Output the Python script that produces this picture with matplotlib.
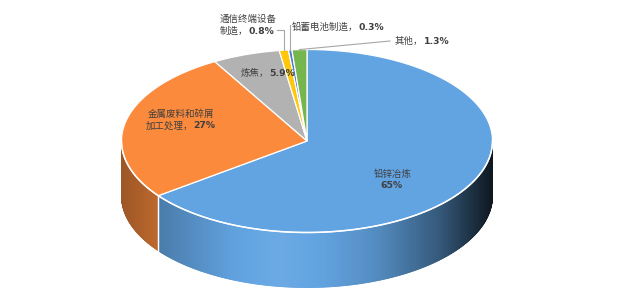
import numpy as np
import matplotlib
matplotlib.use('Agg')
import matplotlib.pyplot as plt
from matplotlib.collections import PolyCollection
from matplotlib.patches import Polygon
from matplotlib.colors import to_rgb

plt.rcParams['font.family'] = ['Noto Sans CJK SC', 'DejaVu Sans']

# ---- data ----
categories = ['铅锌冶炼', '金属废料和碎屑加工处理', '炼焦', '通信终端设备制造', '铅蓄电池制造', '其他']
values = [65, 27, 5.9, 0.8, 0.3, 1.3]
pct_labels = ['65%', '27%', '5.9%', '0.8%', '0.3%', '1.3%']
colors = ['#62A4E2', '#FB8A3C', '#B2B2B2', '#FFC60A', '#4A7DD0', '#77B54E']

# ---- layout ----
W, H = 638, 300
fig = plt.figure(figsize=(6.38, 3.0), dpi=100)
ax = fig.add_axes([0, 0, 1, 1])
ax.set_xlim(0, W)
ax.set_ylim(H, 0)
ax.axis('off')

cx, cy, rx, ry, depth = 307, 141, 185.5, 91.5, 55
text_color = '#3F3F3F'
fs = 6.8


def pt(theta_deg):
    t = np.radians(theta_deg)
    return cx + rx * np.cos(t), cy - ry * np.sin(t)


fracs = np.array(values) / np.sum(values)
ends = 90 - 360 * np.cumsum(fracs)
starts = np.concatenate([[90], ends[:-1]])

# shading profile along the visible side wall (by horizontal position)
U = [-1.0, -0.84, -0.41, -0.15, 0.12, 0.39, 0.72, 0.88, 1.0]
T = [0.42, 0.30, 0.03, -0.06, 0.03, 0.17, 0.51, 0.76, 0.95]


def shade(c, t):
    c = np.array(to_rgb(c))
    if t >= 0:
        dark = c * 0.1
        return tuple(c * (1 - t) + dark * t)
    return tuple(c * (1 + t) - np.ones(3) * t)


# ---- side walls ----
for i in range(len(values)):
    for k in (-360, 0, 360):
        a0 = max(ends[i] + k, -180)
        a1 = min(starts[i] + k, 0)
        if a1 <= a0:
            continue
        n = max(2, int((a1 - a0) * 3))
        angs = np.linspace(a0, a1, n + 1)
        polys, cols = [], []
        for j in range(n):
            x1, y1 = pt(angs[j])
            x2, y2 = pt(angs[j + 1])
            polys.append([(x1, y1), (x2, y2), (x2, y2 + depth), (x1, y1 + depth)])
            u = ((x1 + x2) / 2 - cx) / rx
            cols.append(shade(colors[i], np.interp(u, U, T)))
        pc = PolyCollection(polys, facecolors=cols, edgecolors=cols, linewidths=0.6, zorder=1)
        ax.add_collection(pc)
        for a in (a0, a1):
            if -180 < a < 0:
                x, y = pt(a)
                ax.plot([x, x], [y, y + depth], color='white', lw=0.9, zorder=2)

# ---- top faces ----
for i in range(len(values)):
    n = max(2, int((starts[i] - ends[i]) * 2))
    angs = np.linspace(starts[i], ends[i], n + 1)
    verts = [(cx, cy)] + [pt(a) for a in angs]
    ax.add_patch(Polygon(verts, closed=True, facecolor=colors[i], edgecolor='white',
                         lw=0.9, joinstyle='miter', zorder=3))

rim = np.linspace(-180, 0, 400)
rx_, ry_ = zip(*[pt(a) for a in rim])
ax.plot(rx_, ry_, color='white', lw=1.1, zorder=4)


# ---- labels ----
def label(x, y, parts):
    prev = None
    for txt, bold in parts:
        kw = dict(fontsize=fs, color=text_color, zorder=6)
        if bold:
            kw.update(fontweight='bold', family=['DejaVu Sans'], fontsize=fs * 0.98)
        else:
            kw.update(fontweight='medium')
        if prev is None:
            prev = ax.text(x, y, txt, ha='left', va='center', **kw)
        else:
            prev = ax.annotate(txt, xy=(1, 0.5), xycoords=prev, ha='left', va='center', **kw)


label(374, 174, [(categories[0], False)])
label(380, 186, [(pct_labels[0], True)])
label(148, 114, [(categories[1][:7], False)])
label(146, 126, [(categories[1][7:] + '，', False), (pct_labels[1], True)])
label(241, 73, [(categories[2] + '，', False), (pct_labels[2], True)])
label(220, 19, [(categories[3][:6], False)])
label(220, 31, [(categories[3][6:] + '，', False), (pct_labels[3], True)])
label(292, 27, [(categories[4] + '，', False), (pct_labels[4], True)])
label(395, 41, [(categories[5] + '，', False), (pct_labels[5], True)])

# ---- leader lines ----
lc = '#A6A6A6'
mids = (starts + ends) / 2
x3, y3 = pt(mids[3])
ax.plot([277, x3, x3], [30, 30, y3], color=lc, lw=0.8, zorder=5)
x4, y4 = pt(mids[4])
ax.plot([x4, x4], [25, y4], color=lc, lw=0.8, zorder=5)
x5, y5 = pt(mids[5])
ax.plot([x5, 390], [y5, 41], color=lc, lw=0.8, zorder=5)

fig.savefig('out.png', dpi=100, facecolor='white')
